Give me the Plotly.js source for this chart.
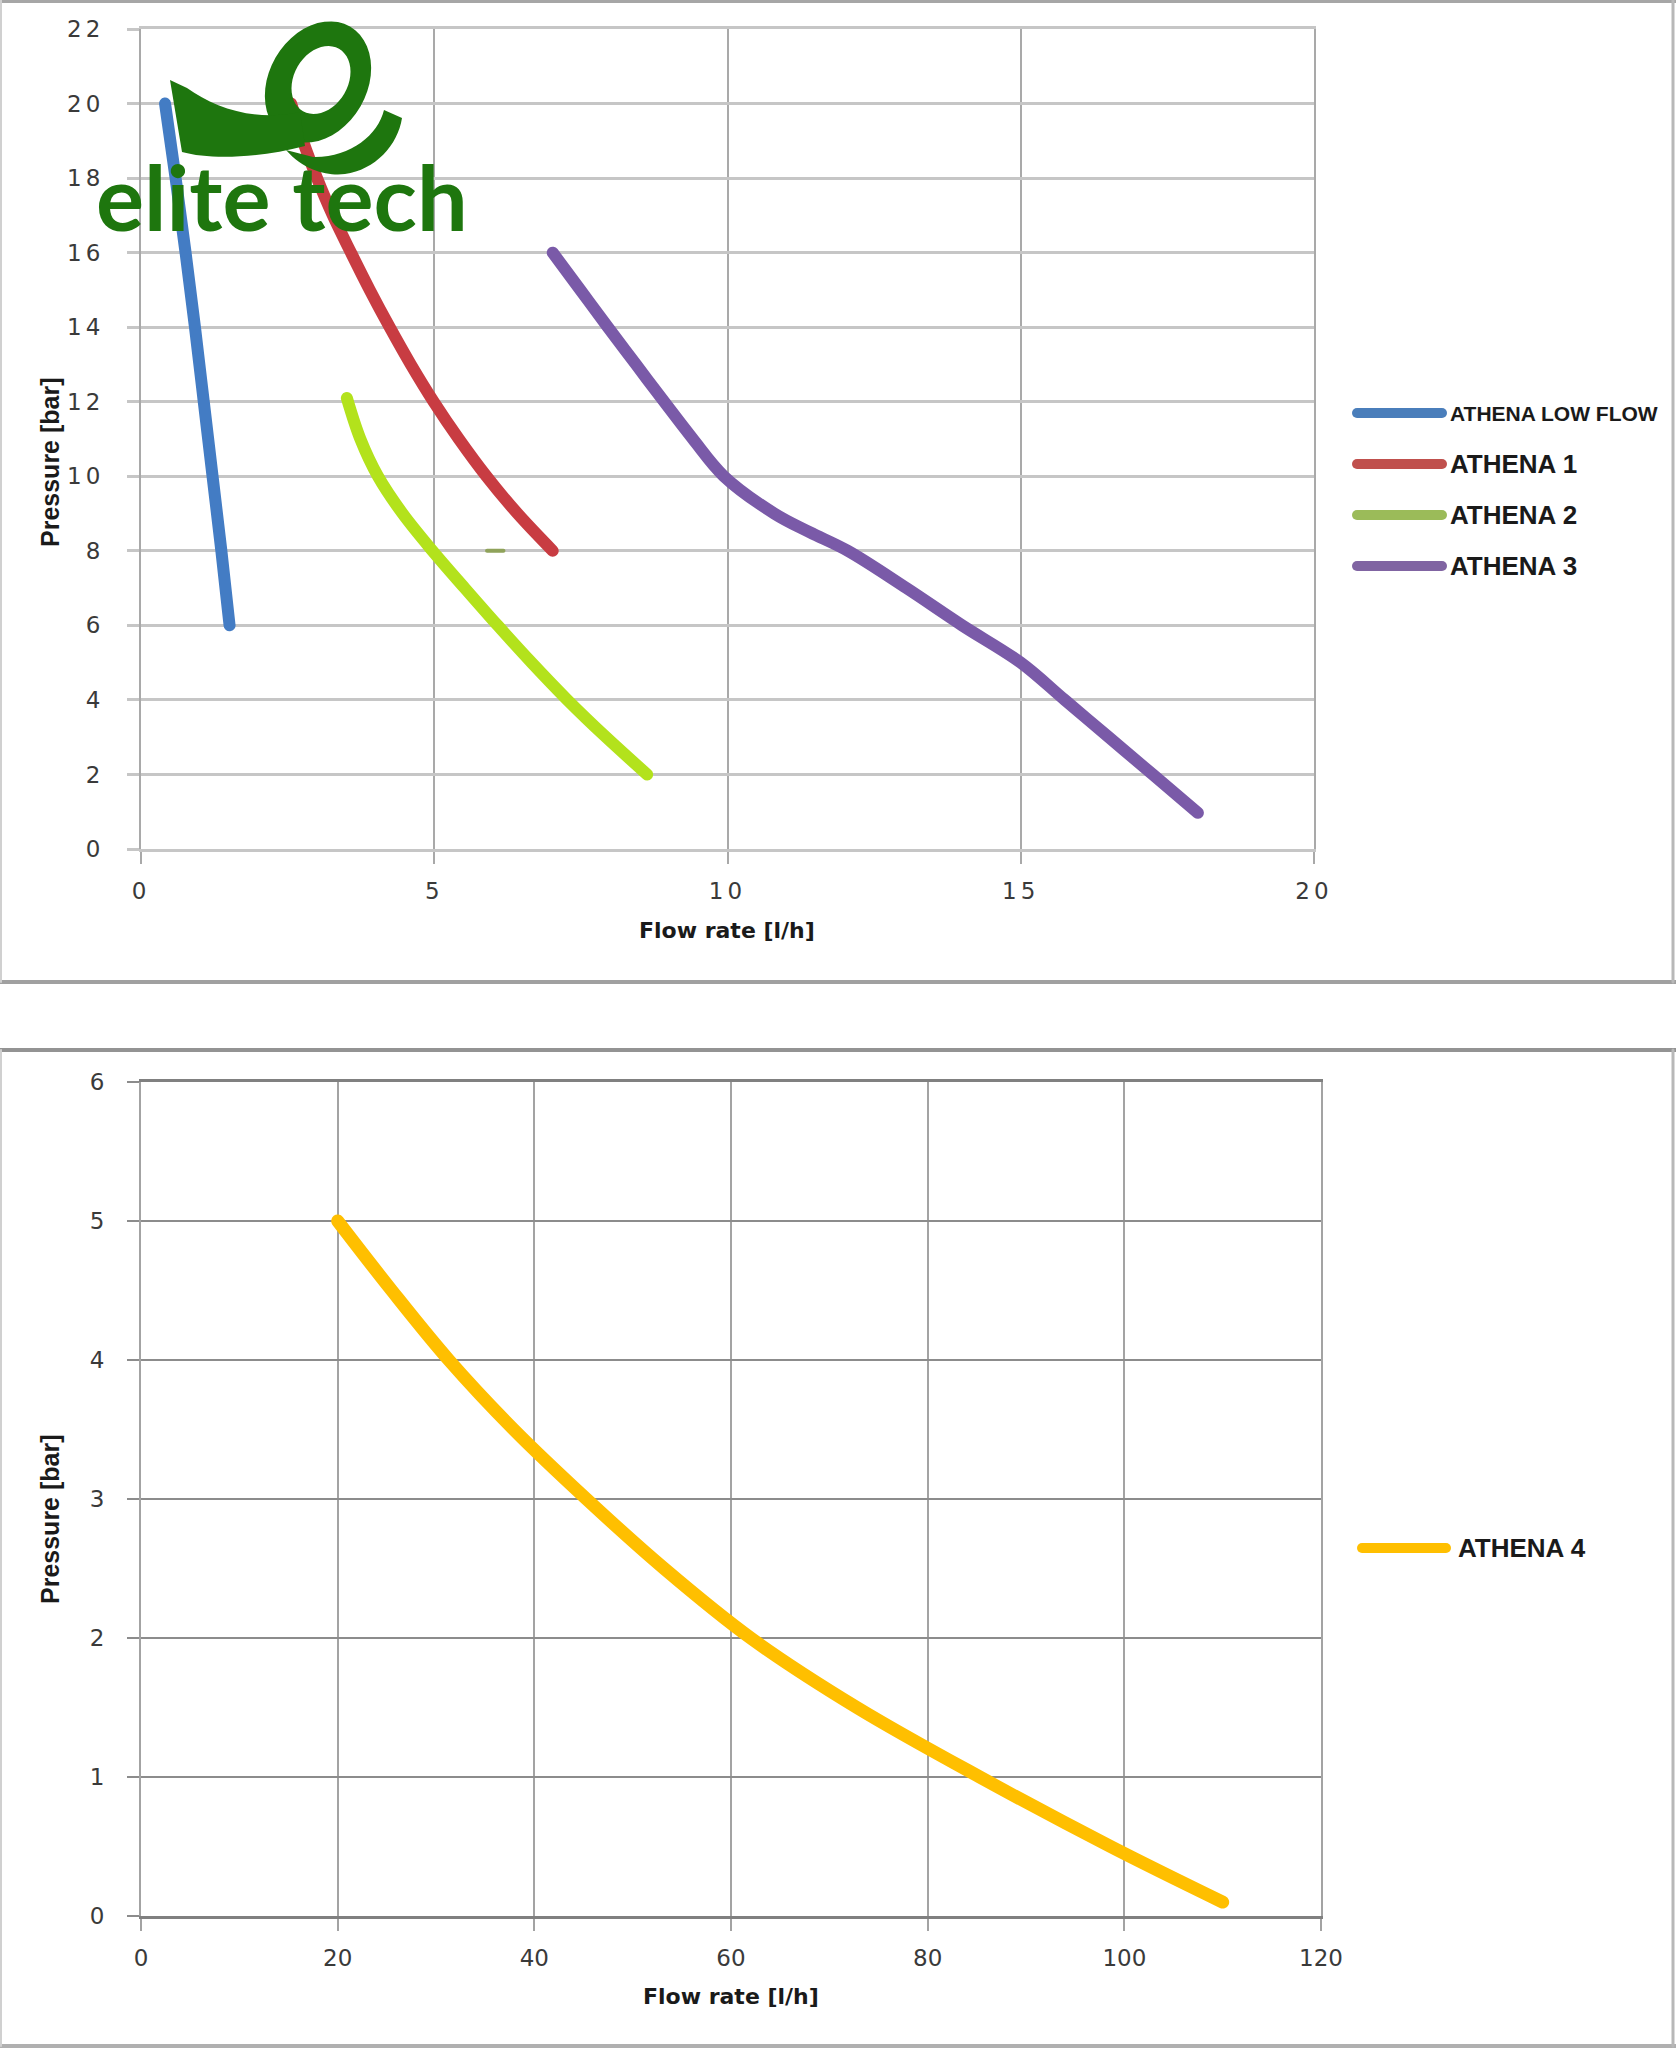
<!DOCTYPE html>
<html>
<head>
<meta charset="utf-8">
<script src="https://cdn.plot.ly/plotly-3.0.1.min.js"></script>
<style>
  html, body { margin: 0; padding: 0; background: #fff; }
  #chart { width: 1676px; height: 2048px; }
  .xtick text, .ytick text { letter-spacing: 4px; }
  .scatterlayer .js-line, .shapelayer path { stroke-linecap: round; }
</style>
</head>
<body>
<div id="chart"></div>
<script>
// ---- top chart: pressure [bar] vs flow rate [l/h], small models
var lowFlowX = [0.41, 0.59, 0.76, 0.92, 1.07, 1.22, 1.37, 1.51];
var lowFlowY = [20, 18, 16, 14, 12, 10, 8, 6];

var athena1X = [2.56, 2.76, 3.00, 3.27, 3.58, 3.90, 4.24, 4.60, 4.99, 5.42, 5.89, 6.42, 7.02];
var athena1Y = [20, 19, 18, 17, 16, 15, 14, 13, 12, 11, 10, 9, 8];

var athena2X = [3.51, 3.74, 4.04, 4.46, 4.97, 5.52, 6.08, 6.66, 7.27, 7.93, 8.63];
var athena2Y = [12.1, 11, 10, 9, 8, 7, 6, 5, 4, 3, 2];

var athena3X = [7.02, 7.49, 7.96, 8.44, 8.92, 9.41, 9.94, 10.8, 11.4, 12.05, 13.05, 14.0, 15.0, 15.75, 16.5, 17.25, 18.02];
var athena3Y = [16, 15, 14, 13, 12, 11, 10, 9, 8.5, 8, 7, 6, 5, 4, 3, 2, 0.97];

// stray legend-coloured dash in the source picture
var strayX = [5.90, 6.18];
var strayY = [8, 8];

var topNames = ['ATHENA LOW FLOW', 'ATHENA 1', 'ATHENA 2', 'ATHENA 3'];
var topXTicks = [0, 5, 10, 15, 20];
var topYTicks = [0, 2, 4, 6, 8, 10, 12, 14, 16, 18, 20, 22];

// ---- bottom chart: ATHENA 4
var athena4X = [20, 25.5, 31.3, 37.9, 45.3, 53.2, 62.0, 72.8, 85.3, 98.6, 110];
var athena4Y = [5, 4.5, 4, 3.5, 3, 2.5, 2, 1.5, 1, 0.5, 0.1];

var bottomNames = ['ATHENA 4'];
var bottomXTicks = [0, 20, 40, 60, 80, 100, 120];
var bottomYTicks = [0, 1, 2, 3, 4, 5, 6];

// styles
var lineColors = ['#437cc4', '#c83c42', '#b3e21c', '#7a5aa8'];
var swatchColors = ['#4a7ebb', '#c0504d', '#9bbb59', '#8064a2'];
var goldColor = '#ffbf00';

var W = 1676, H = 2048;
function px(x) { return x / W; }
function py(y) { return 1 - y / H; }

function curve(x, y, color, width, xa, ya) {
  return {x: x, y: y, xaxis: xa, yaxis: ya, type: 'scatter', mode: 'lines',
          line: {color: color, width: width, shape: 'spline', smoothing: 1},
          hoverinfo: 'skip', showlegend: false};
}

var traces = [
  curve(lowFlowX, lowFlowY, lineColors[0], 12, 'x', 'y'),
  curve(athena1X, athena1Y, lineColors[1], 12, 'x', 'y'),
  curve(athena2X, athena2Y, lineColors[2], 12, 'x', 'y'),
  curve(athena3X, athena3Y, lineColors[3], 12, 'x', 'y'),
  curve(strayX, strayY, '#8fa25a', 4, 'x', 'y'),
  curve(athena4X, athena4Y, goldColor, 13, 'x2', 'y2')
];

var tickFont = {family: 'DejaVu Sans, sans-serif', size: 23, color: '#3a3a3a'};

// grid: the plot-area edges are drawn as mirrored axis lines
function axis(domain, range, ticks, grid, edge, anchor, standoff) {
  return {domain: domain, range: range, tickmode: 'array', tickvals: ticks,
          showgrid: true, gridcolor: grid.color, gridwidth: grid.width,
          zeroline: false, showline: true, mirror: true,
          linecolor: edge.color, linewidth: edge.width,
          ticks: 'outside', ticklen: 12,
          tickcolor: grid.color, tickwidth: grid.width, tickfont: tickFont,
          ticklabelstandoff: standoff, anchor: anchor, fixedrange: true};
}

var shapes = [];
var annotations = [];

function hline(x0, x1, y, color, width) {
  shapes.push({type: 'line', xref: 'paper', yref: 'paper', x0: px(x0), x1: px(x1),
               y0: py(y), y1: py(y), line: {color: color, width: width}});
}
function vline(x, y0, y1, color, width) {
  shapes.push({type: 'line', xref: 'paper', yref: 'paper', x0: px(x), x1: px(x),
               y0: py(y0), y1: py(y1), line: {color: color, width: width}});
}

// chart frames
hline(0, W, 1.5, '#a6a6a6', 3);
hline(0, W, 982, '#a0a0a0', 4);
vline(1673, 0, 982, '#b8b8b8', 3);
vline(1, 0, 982, '#d0d0d0', 2);
hline(0, W, 1050, '#939393', 4);
hline(0, W, 2046, '#b0b0b0', 4);
vline(1673, 1050, 2046, '#b8b8b8', 3);
vline(1, 1050, 2046, '#d0d0d0', 2);

// legends drawn as swatch + label
function legendBlock(names, colors, x0, x1, tx, y0) {
  names.forEach(function (name, i) {
    var y = y0 + i * 51;
    hline(x0, x1, y, colors[i], 10);
    var small = name.length > 10;
    annotations.push({xref: 'paper', yref: 'paper', x: px(tx), y: py(y),
      xanchor: 'left', yanchor: 'middle', showarrow: false, text: name,
      font: {family: 'Liberation Sans, Arial, sans-serif',
             size: small ? 21 : 26, weight: 700, color: '#1a1a1a'}});
  });
}
legendBlock(topNames, swatchColors, 1357, 1442, 1448, 413);
legendBlock(bottomNames, [goldColor], 1362, 1446, 1456, 1548);

// axis titles
function title(text, x, y, angle) {
  annotations.push({xref: 'paper', yref: 'paper', x: px(x), y: py(y),
    xanchor: 'center', yanchor: 'middle', showarrow: false, text: text,
    textangle: angle,
    font: angle ? {family: 'Liberation Sans, Arial, sans-serif', size: 25, weight: 700, color: '#1a1a1a'}
                : {family: 'DejaVu Sans, sans-serif', size: 22, weight: 700, color: '#1a1a1a'}});
}
title('Flow rate [l/h]', 727, 930, 0);
title('Pressure [bar]', 50, 462, -90);
title('Flow rate [l/h]', 731, 1996, 0);
title('Pressure [bar]', 50, 1519, -90);

// logo watermark
var logoGreen = '#1e760e';
function ellipse(cx, cy, rx, ry, rotDeg, reverse) {
  var r = rotDeg * Math.PI / 180, pts = [];
  for (var k = 0; k <= 48; k++) {
    var t = (reverse ? -1 : 1) * k / 48 * 2 * Math.PI;
    var ex = rx * Math.cos(t), ey = ry * Math.sin(t);
    var X = cx + ex * Math.cos(r) - ey * Math.sin(r);
    var Y = cy + ex * Math.sin(r) + ey * Math.cos(r);
    pts.push((k ? 'L' : 'M') + px(X) + ',' + py(Y));
  }
  return pts.join(' ') + ' Z';
}
function pathPx(cmds) {
  return cmds.map(function (c) {
    var s = c[0];
    for (var i = 1; i < c.length; i += 2) s += (i > 1 ? ' ' : '') + px(c[i]) + ',' + py(c[i + 1]);
    return s;
  }).join(' ') + ' Z';
}
shapes.push({type: 'path', xref: 'paper', yref: 'paper', layer: 'above', fillrule: 'evenodd',
  path: ellipse(318, 82, 49, 64, 30, false) + ' ' + ellipse(321, 80, 27, 36, 30, true),
  fillcolor: logoGreen, line: {width: 0}});
shapes.push({type: 'path', xref: 'paper', yref: 'paper', layer: 'above',
  path: pathPx([['M', 170, 80], ['L', 187, 88], ['C', 215, 108, 255, 122, 300, 112],
                ['L', 305, 146], ['C', 260, 158, 210, 160, 182, 152]]),
  fillcolor: logoGreen, line: {width: 0}});
shapes.push({type: 'path', xref: 'paper', yref: 'paper', layer: 'above',
  path: pathPx([['M', 286, 150], ['C', 305, 172, 330, 176, 345, 174],
                ['C', 375, 170, 398, 145, 402, 118], ['L', 384, 110],
                ['C', 378, 135, 350, 158, 313, 157]]),
  fillcolor: logoGreen, line: {width: 0}});
annotations.push({xref: 'paper', yref: 'paper', x: px(94), y: py(196),
  xanchor: 'left', yanchor: 'middle', showarrow: false, text: 'elite tech',
  font: {family: 'Lato, sans-serif', size: 90, weight: 700, color: logoGreen}});

var topGridH = {color: '#c6c6c6', width: 3};
var topGridV = {color: '#a9a9a9', width: 2};
var botGridH = {color: '#8c8c8c', width: 2};
var botGridV = {color: '#a3a3a3', width: 2};
var botBase = {color: '#808080', width: 3};

var layout = {
  width: W, height: H,
  margin: {l: 0, r: 0, t: 0, b: 0},
  paper_bgcolor: '#ffffff', plot_bgcolor: '#ffffff',
  showlegend: false,
  xaxis: axis([px(141), px(1314)], [0, 20], topXTicks, topGridV, topGridH, 'y', 7),
  yaxis: axis([py(849), py(29)], [0, 22], topYTicks, topGridH, topGridV, 'x', 18),
  xaxis2: axis([px(141), px(1321)], [0, 120], bottomXTicks, botGridV, botBase, 'y2', 7),
  yaxis2: axis([py(1916), py(1082)], [0, 6], bottomYTicks, botGridH, botGridV, 'x2', 18),
  shapes: shapes,
  annotations: annotations
};

Plotly.newPlot('chart', traces, layout, {staticPlot: true, displayModeBar: false});
</script>
</body>
</html>
